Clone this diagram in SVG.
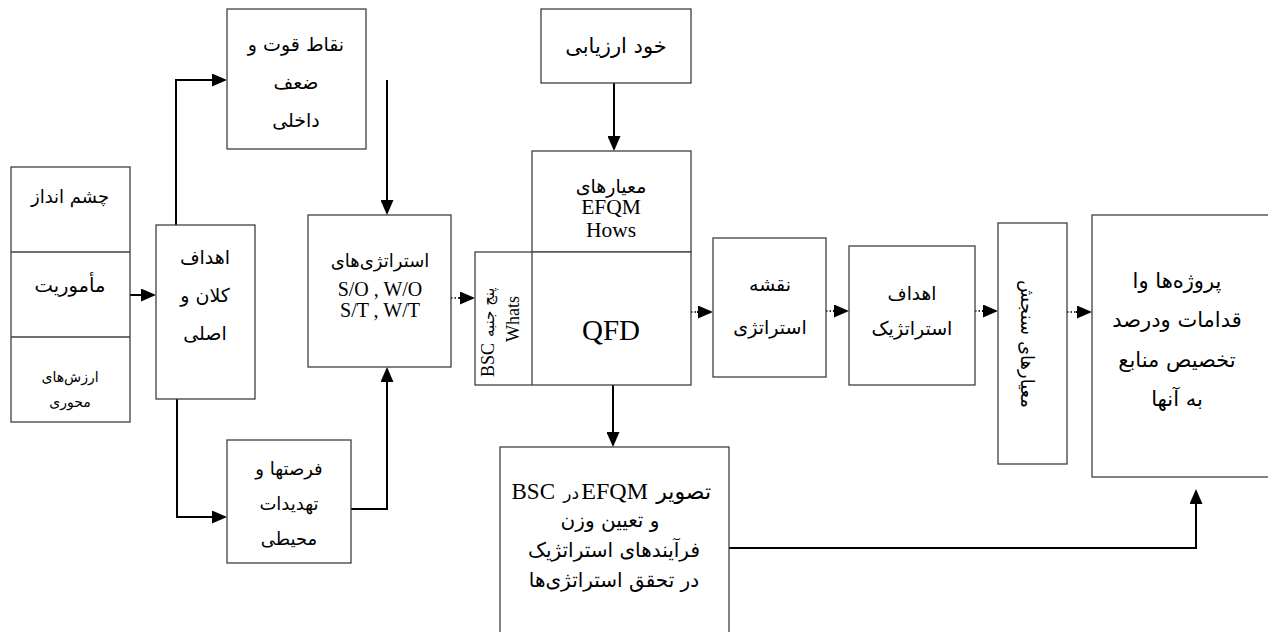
<svg xmlns="http://www.w3.org/2000/svg" width="1268" height="632" viewBox="0 0 1268 632">
<defs>
<style>
.box{fill:#fff;stroke:#404040;stroke-width:1.3}
.ln{fill:none;stroke:#404040;stroke-width:1.3}
.c{fill:none;stroke:#000;stroke-width:2}
.d{fill:none;stroke:#000;stroke-width:1.3;stroke-dasharray:1.5 2}
.fa{font-family:"DejaVu Sans",sans-serif;fill:#000;text-anchor:middle}
.tm{font-family:"Liberation Serif",serif;fill:#000;text-anchor:middle}
</style>
<marker id="ah" viewBox="0 0 15 13" refX="13" refY="6.5" markerWidth="15" markerHeight="13" markerUnits="userSpaceOnUse" orient="auto">
<path d="M0,0 L15,6.5 L0,13 z" fill="#000"/>
</marker>
</defs>
<rect width="1268" height="632" fill="#fff"/>

<g id="connectors">
<path class="c" d="M130,295 H154" marker-end="url(#ah)"/>
<path class="c" d="M176,225 V80 H225" marker-end="url(#ah)"/>
<path class="c" d="M177,399 V517 H225" marker-end="url(#ah)"/>
<path class="c" d="M387,80 V213" marker-end="url(#ah)"/>
<path class="c" d="M351,509 H387 V369" marker-end="url(#ah)"/>
<path class="c" d="M614,83 V149" marker-end="url(#ah)"/>
<path class="c" d="M613,385 V445" marker-end="url(#ah)"/>
<path class="c" d="M729,548 H1196 V491" marker-end="url(#ah)"/>
<path class="d" d="M451,298 H461"/>
<path class="c" d="M459,298 H473" stroke-width="0" marker-end="url(#ah)"/>
<path class="d" d="M691,312 H699"/>
<path class="c" d="M697,312 H711" stroke-width="0" marker-end="url(#ah)"/>
<path class="d" d="M826,311 H835"/>
<path class="c" d="M833,311 H847" stroke-width="0" marker-end="url(#ah)"/>
<path class="d" d="M975,311 H984"/>
<path class="c" d="M982,311 H996" stroke-width="0" marker-end="url(#ah)"/>
<path class="d" d="M1067,312 H1078"/>
<path class="c" d="M1076,312 H1090" stroke-width="0" marker-end="url(#ah)"/>
</g>

<g id="vision-mission-values">
<rect class="box" x="11" y="167" width="119" height="255"/>
<line class="ln" x1="11" y1="252" x2="130" y2="252"/>
<line class="ln" x1="11" y1="337" x2="130" y2="337"/>
<text class="fa" x="70" y="203" font-size="18">چشم انداز</text>
<text class="fa" x="70" y="292" font-size="19.5">مأموریت</text>
<text class="fa" x="70" y="382" font-size="14">ارزش‌های</text>
<text class="fa" x="70" y="407" font-size="14">محوری</text>
</g>

<g id="goals">
<rect class="box" x="156" y="225" width="99" height="174"/>
<text class="fa" x="205" y="264" font-size="19">اهداف</text>
<text class="fa" x="205" y="302" font-size="19">کلان و</text>
<text class="fa" x="205" y="340" font-size="19">اصلی</text>
</g>

<g id="internal">
<rect class="box" x="227" y="9" width="139" height="140"/>
<text class="fa" x="296" y="51" font-size="19">نقاط قوت و</text>
<text class="fa" x="296" y="89" font-size="19">ضعف</text>
<text class="fa" x="296" y="127" font-size="19">داخلی</text>
</g>

<g id="external">
<rect class="box" x="227" y="440" width="124" height="123"/>
<text class="fa" x="289" y="475" font-size="18">فرصتها و</text>
<text class="fa" x="289" y="510" font-size="18">تهدیدات</text>
<text class="fa" x="289" y="545" font-size="18">محیطی</text>
</g>

<g id="strategies">
<rect class="box" x="308" y="215" width="143" height="152"/>
<text class="fa" x="380" y="267" font-size="18">استراتژی‌های</text>
<text class="tm" x="380" y="296" font-size="20">S/O , W/O</text>
<text class="tm" x="380" y="317" font-size="20">S/T , W/T</text>
</g>

<g id="self-assessment">
<rect class="box" x="541" y="9" width="150" height="74"/>
<text class="fa" x="616" y="53" font-size="21">خود ارزیابی</text>
</g>

<g id="qfd">
<rect class="box" x="532" y="151" width="159" height="101"/>
<rect class="box" x="475" y="252" width="216" height="133"/>
<line class="ln" x1="532" y1="252" x2="532" y2="385"/>
<text class="fa" x="611" y="193" font-size="19">معیارهای</text>
<text class="tm" x="611" y="214" font-size="21.5">EFQM</text>
<text class="tm" x="611" y="237" font-size="21.5">Hows</text>
<text class="tm" x="611" y="340" font-size="29">QFD</text>
<g transform="translate(488,315) rotate(-90)">
<text class="tm" x="-62" y="6" font-size="18" style="text-anchor:start">BSC</text>
<text class="fa" x="-22" y="6" font-size="15" style="text-anchor:start">پنج جنبه</text>
</g>
<g transform="translate(513,319) rotate(-90)">
<text class="tm" x="0" y="6" font-size="18">Whats</text>
</g>
</g>

<g id="strategy-map">
<rect class="box" x="713" y="238" width="113" height="139"/>
<text class="fa" x="770" y="291" font-size="19">نقشه</text>
<text class="fa" x="770" y="334" font-size="19">استراتژی</text>
</g>

<g id="strategic-goals">
<rect class="box" x="849" y="246" width="126" height="139"/>
<text class="fa" x="912" y="300" font-size="18.5">اهداف</text>
<text class="fa" x="912" y="335" font-size="19">استراتژیک</text>
</g>

<g id="measures">
<rect class="box" x="998" y="223" width="69" height="241"/>
<g transform="translate(1027,344) rotate(90)">
<text class="fa" x="0" y="6" font-size="18">معیارهای سنجش</text>
</g>
</g>

<g id="projects">
<rect class="box" x="1092" y="215" width="180" height="262"/>
<text class="fa" x="1177" y="288" font-size="21">پروژه‌ها وا</text>
<text class="fa" x="1177" y="327" font-size="21">قدامات ودرصد</text>
<text class="fa" x="1177" y="367" font-size="21">تخصیص منابع</text>
<text class="fa" x="1177" y="406" font-size="21">به آنها</text>
</g>

<g id="bsc-efqm">
<rect class="box" x="500" y="447" width="229" height="200"/>
<text class="fa" x="711" y="499" font-size="22" style="text-anchor:end">تصویر</text>
<text class="tm" x="648" y="499" font-size="24" style="text-anchor:end">EFQM</text>
<text class="fa" x="579" y="499" font-size="17" style="text-anchor:end">در</text>
<text class="tm" x="555" y="499" font-size="23" style="text-anchor:end">BSC</text>
<text class="fa" x="610" y="527" font-size="20">و تعیین وزن</text>
<text class="fa" x="614" y="557" font-size="20">فرآیندهای استراتژیک</text>
<text class="fa" x="614" y="587" font-size="20">در تحقق استراتژی‌ها</text>
</g>
</svg>
